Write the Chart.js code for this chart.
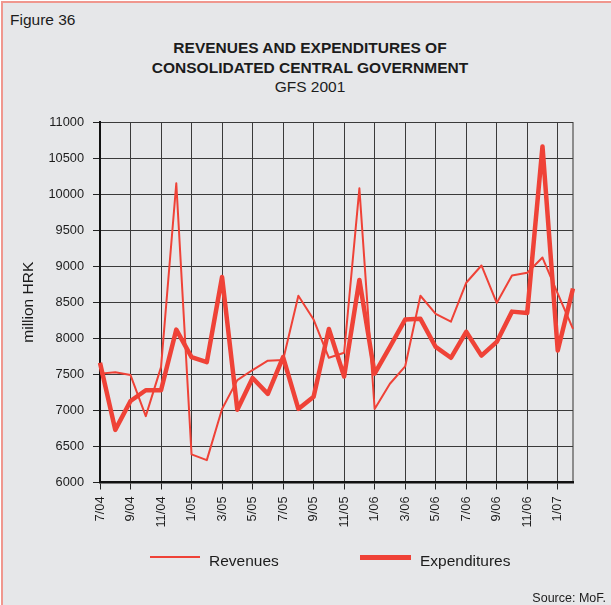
<!DOCTYPE html>
<html>
<head>
<meta charset="utf-8">
<script src="https://cdn.jsdelivr.net/npm/chart.js@4/dist/chart.umd.min.js"></script>
<style>
  html, body { margin: 0; padding: 0; background: #ffffff; }
  body { width: 611px; height: 605px; position: relative; overflow: hidden;
         font-family: "Liberation Sans", Arial, sans-serif; color: #1c1c1c; }
  .frame { position: absolute; left: 1px; top: 1px; width: 700px; height: 700px;
           background: #e6e7e9; border-top: 2px solid #f0978e; border-left: 2px solid #f0978e; }
  canvas { position: absolute; left: 0; top: 0; }
  .txt { position: absolute; line-height: 1; white-space: nowrap; }
  .fig { left: 10px; top: 12px; font-size: 15.5px; }
  .title { left: 0; width: 620px; text-align: center; font-size: 15.5px; font-weight: bold; }
  .sub { left: 0; width: 620px; text-align: center; font-size: 15.5px; }
  .legline { position: absolute; background: #ef4237; }
  .leg { font-size: 15.5px; }
  .src { right: 5px; top: 592px; font-size: 12.5px; }
</style>
</head>
<body>
<div class="frame"></div>
<div class="txt fig">Figure 36</div>
<div class="txt title" style="top:39.5px">REVENUES AND EXPENDITURES OF</div>
<div class="txt title" style="top:59.5px">CONSOLIDATED CENTRAL GOVERNMENT</div>
<div class="txt sub" style="top:78.5px">GFS 2001</div>

<canvas id="c" width="611" height="605"></canvas>

<div class="legline" style="left:150px; top:556px; width:50px; height:2px;"></div>
<div class="txt leg" style="left:209px; top:552.5px;">Revenues</div>
<div class="legline" style="left:360px; top:555px; width:51px; height:4.5px;"></div>
<div class="txt leg" style="left:420px; top:552.5px;">Expenditures</div>
<div class="txt src">Source: MoF.</div>

<script>
// Monthly figures, July 2004 - February 2007 (million HRK)
const months = [
  "7/04", "8/04", "9/04", "10/04", "11/04", "12/04",
  "1/05", "2/05", "3/05", "4/05", "5/05", "6/05", "7/05", "8/05", "9/05", "10/05", "11/05", "12/05",
  "1/06", "2/06", "3/06", "4/06", "5/06", "6/06", "7/06", "8/06", "9/06", "10/06", "11/06", "12/06",
  "1/07", "2/07"
];

const revenues = [
  7510, 7530, 7490, 6920, 7600, 10150,
  6390, 6310, 7020, 7420, 7560, 7690, 7700, 8590, 8260, 7730, 7800, 10080,
  7020, 7370, 7610, 8590, 8340, 8230, 8770, 9010, 8490, 8870, 8910, 9120,
  8620, 8130
];

const expenditures = [
  7660, 6730, 7130, 7280, 7280, 8120,
  7740, 7670, 8850, 7010, 7450, 7230, 7740, 7020, 7190, 8130, 7470, 8810,
  7510, 7880, 8260, 8270, 7880, 7730, 8090, 7760, 7950, 8370, 8350, 10660,
  7830, 8690
];

const yMin = 6000, yMax = 11000, yStep = 500;

const RED = '#ef4237';
const GRID = '#3a3a3a';
const LABEL = '#1c1c1c';
const FONT = "'Liberation Sans', Arial, sans-serif";

new Chart(document.getElementById('c'), {
  type: 'line',
  data: {
    labels: months,
    datasets: [
      { label: 'Expenditures', data: expenditures, borderColor: RED, borderWidth: 4.5,
        pointRadius: 0, tension: 0, fill: false, order: 0, borderJoinStyle: 'round' },
      { label: 'Revenues', data: revenues, borderColor: RED, borderWidth: 2,
        pointRadius: 0, tension: 0, fill: false, order: 1, borderJoinStyle: 'round' }
    ]
  },
  options: {
    responsive: false,
    devicePixelRatio: 1,
    animation: false,
    layout: { padding: { left: 0, top: 122, right: 38, bottom: 72.5 } },
    plugins: { legend: { display: false }, tooltip: { enabled: false }, title: { display: false } },
    scales: {
      x: {
        type: 'category',
        offset: false,
        afterFit: (s) => { s.height = 50; },
        border: { display: true, color: '#111', width: 2.5 },
        grid: {
          offset: false,
          drawTicks: true,
          tickLength: 7,
          color: (ctx) => ctx.index === months.length - 1 ? '#8c8c8c'
                         : (ctx.index % 2 === 0 ? GRID : 'rgba(0,0,0,0)'),
          lineWidth: (ctx) => ctx.index === months.length - 1 ? 2 : 1,
          tickColor: (ctx) => ctx.index % 2 === 0 ? '#222' : 'rgba(0,0,0,0)'
        },
        ticks: {
          autoSkip: false,
          minRotation: 90,
          maxRotation: 90,
          padding: 7,
          color: LABEL,
          font: { family: FONT, size: 12.8 },
          callback: function (value, index) {
            return index % 2 === 0 ? this.getLabelForValue(value) : '';
          }
        }
      },
      y: {
        min: yMin,
        max: yMax,
        afterFit: (s) => { s.width = 100; },
        border: { display: true, color: '#111', width: 2 },
        grid: { color: GRID, lineWidth: 1, drawTicks: true, tickLength: 7, tickColor: '#222' },
        ticks: {
          stepSize: yStep,
          padding: 9,
          color: LABEL,
          font: { family: FONT, size: 12.8 },
          callback: (v) => String(v)
        },
        title: {
          display: true,
          text: 'million HRK',
          color: LABEL,
          font: { family: FONT, size: 15.5 },
          padding: { top: 19, bottom: 0 }
        }
      }
    }
  }
});
</script>
</body>
</html>
